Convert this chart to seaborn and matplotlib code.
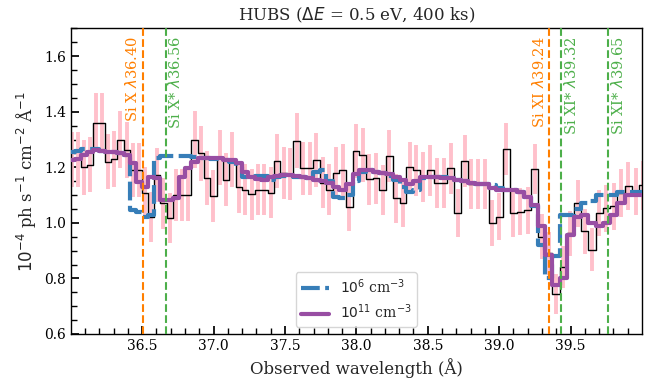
import numpy as np
import pandas as pd
import matplotlib
matplotlib.use("Agg")
import matplotlib.pyplot as plt
import matplotlib.transforms as mtransforms
from matplotlib.ticker import MultipleLocator, AutoMinorLocator
from matplotlib.lines import Line2D
import seaborn as sns

HC_EV_A = 12398.42          # h*c in eV*Angstrom
REDSHIFT = 0.00285

# Spectral binning: constant 0.4 eV width in energy
energy_edges_ev = np.arange(309.7, 344.55, 0.4)
wave_edges = np.sort(HC_EV_A / energy_edges_ev)
wave_centres = 0.5 * (wave_edges[:-1] + wave_edges[1:])

# Simulated observed flux (1e-4 ph/s/cm2/A), ordered by increasing wavelength
flux = [1.229, 1.229, 1.20, 1.21, 1.36, 1.36, 1.22, 1.23, 1.30, 1.263,
        1.19, 1.19, 1.107, 1.023, 1.173, 1.07, 1.017, 1.10, 1.10, 1.10,
        1.30, 1.25, 1.162, 1.097, 1.236, 1.155, 1.229, 1.128, 1.12, 1.103,
        1.12, 1.12, 1.109, 1.223, 1.18, 1.175, 1.295, 1.197, 1.197, 1.227,
        1.145, 1.12, 1.18, 1.19, 1.059, 1.26, 1.245, 1.157, 1.16, 1.119,
        1.241, 1.089, 1.073, 1.20, 1.19, 1.165, 1.19, 1.143, 1.143, 1.197,
        1.037, 1.224, 1.14, 1.14, 1.14, 1.0, 1.023, 1.266, 1.035, 1.04,
        1.045, 1.193, 0.95, 0.89, 0.745, 0.842, 0.963, 1.071, 0.97, 0.903,
        1.037, 1.053, 1.06, 1.107, 1.133, 1.113, 1.135]

flux_err = [0.100, 0.100, 0.098, 0.099, 0.106, 0.106, 0.099, 0.100, 0.103, 0.101,
            0.098, 0.098, 0.094, 0.090, 0.097, 0.093, 0.090, 0.094, 0.094, 0.094,
            0.102, 0.100, 0.096, 0.093, 0.099, 0.095, 0.098, 0.094, 0.093, 0.092,
            0.093, 0.093, 0.092, 0.097, 0.095, 0.094, 0.099, 0.095, 0.095, 0.096,
            0.092, 0.091, 0.094, 0.094, 0.088, 0.097, 0.096, 0.092, 0.092, 0.090,
            0.095, 0.088, 0.087, 0.093, 0.092, 0.091, 0.092, 0.090, 0.090, 0.092,
            0.086, 0.093, 0.089, 0.089, 0.089, 0.084, 0.085, 0.095, 0.085, 0.085,
            0.085, 0.090, 0.081, 0.078, 0.072, 0.076, 0.081, 0.085, 0.081, 0.078,
            0.083, 0.084, 0.084, 0.086, 0.087, 0.086, 0.087]

# Model spectra for two gas densities
model_low_density = [1.255, 1.26, 1.265, 1.265, 1.265, 1.26, 1.255, 1.255, 1.25, 1.245,
                     1.045, 1.04, 1.02, 1.03, 1.235, 1.24, 1.24, 1.24, 1.24, 1.24,
                     1.238, 1.235, 1.233, 1.23, 1.23, 1.225, 1.22, 1.20, 1.165, 1.16,
                     1.17, 1.17, 1.155, 1.165, 1.17, 1.17, 1.165, 1.165, 1.16, 1.185,
                     1.19, 1.15, 1.095, 1.09, 1.10, 1.15, 1.185, 1.19, 1.185, 1.18,
                     1.17, 1.155, 1.13, 1.11, 1.12, 1.16, 1.165, 1.165, 1.165, 1.16,
                     1.155, 1.15, 1.145, 1.14, 1.14, 1.135, 1.125, 1.12, 1.12, 1.11,
                     1.095, 1.06, 0.92, 0.80, 0.88, 1.03, 1.03, 1.05, 1.07, 1.08,
                     1.10, 1.10, 1.10, 1.11, 1.11, 1.11, 1.11]

model_high_density = [1.225, 1.23, 1.245, 1.255, 1.262, 1.26, 1.255, 1.255, 1.25, 1.245,
                      1.215, 1.149, 1.131, 1.167, 1.16, 1.083, 1.083, 1.09, 1.167, 1.197,
                      1.221, 1.233, 1.233, 1.235, 1.232, 1.228, 1.225, 1.215, 1.185, 1.165,
                      1.158, 1.155, 1.165, 1.17, 1.172, 1.172, 1.17, 1.165, 1.16, 1.155,
                      1.15, 1.145, 1.13, 1.12, 1.14, 1.175, 1.19, 1.19, 1.185, 1.18,
                      1.175, 1.165, 1.155, 1.14, 1.15, 1.165, 1.165, 1.165, 1.16, 1.16,
                      1.155, 1.15, 1.145, 1.14, 1.14, 1.125, 1.12, 1.12, 1.12, 1.113,
                      1.095, 1.065, 0.99, 0.885, 0.775, 0.80, 0.955, 1.02, 1.03, 1.0,
                      0.99, 1.0, 1.03, 1.07, 1.10, 1.10, 1.10]

model_labels = [r"$10^6$ cm$^{-3}$", r"$10^{11}$ cm$^{-3}$"]

# Rest-frame line identifications
line_names = [r"Si X $\lambda$36.40", r"Si X* $\lambda$36.56", r"Si XI $\lambda$39.24",
              r"Si XI* $\lambda$39.32", r"Si XI* $\lambda$39.65"]
line_rest = [36.40, 36.56, 39.24, 39.32, 39.65]
line_kind = ["ground", "excited", "ground", "excited", "excited"]

BLUE, PURPLE, GREEN, ORANGE = "#377eb8", "#984ea3", "#4daf4a", "#ff7f00"

sns.set_theme(style="ticks")
plt.rcParams.update({
    "font.family": ["DejaVu Serif"],
    "mathtext.fontset": "dejavusans",
    "xtick.direction": "in",
    "ytick.direction": "in",
    "xtick.labelsize": 10,
    "ytick.labelsize": 10,
    "axes.edgecolor": "black",
    "axes.linewidth": 1.0,
    "xtick.color": "black",
    "ytick.color": "black",
})

fig = plt.figure(figsize=(6.6, 3.82), dpi=100)
ax = fig.add_axes([0.1076, 0.1257, 0.8647, 0.7997])


def step_frame(values):
    return pd.DataFrame({"wave": wave_edges,
                         "val": list(values) + [values[-1]]})


# error bars of the binned data
ax.errorbar(wave_centres, flux, yerr=flux_err, fmt="none", ecolor="pink",
            elinewidth=2.8, capsize=0, zorder=1)

# binned data
d = step_frame(flux)
sns.lineplot(data=d, x="wave", y="val", ax=ax, estimator=None, sort=False,
             drawstyle="steps-post", color="black", linewidth=1.0, zorder=2,
             legend=False)

# models
d = step_frame(model_low_density)
sns.lineplot(data=d, x="wave", y="val", ax=ax, estimator=None, sort=False,
             drawstyle="steps-post", color=BLUE, linewidth=3.0, zorder=3,
             linestyle=(0, (4.5, 1.3)), legend=False)
d = step_frame(model_high_density)
sns.lineplot(data=d, x="wave", y="val", ax=ax, estimator=None, sort=False,
             drawstyle="steps-post", color=PURPLE, linewidth=3.0, zorder=4,
             legend=False)

# line markers
trans = mtransforms.blended_transform_factory(ax.transData, ax.transAxes)
for name, rest, kind in zip(line_names, line_rest, line_kind):
    obs = rest * (1 + REDSHIFT)
    col = ORANGE if kind == "ground" else GREEN
    ax.axvline(obs, color=col, linestyle="--", linewidth=1.5, zorder=5)
    if kind == "ground":
        ax.text(obs - 0.018, 0.975, name, transform=trans, rotation=90,
                ha="right", va="top", color=col, fontsize=10.5)
    else:
        ax.text(obs + 0.012, 0.975, name, transform=trans, rotation=90,
                ha="left", va="top", color=col, fontsize=10.5)

ax.set_xlim(36.002, 39.998)
ax.set_ylim(0.6, 1.7)
ax.xaxis.set_major_locator(MultipleLocator(0.5))
ax.xaxis.set_minor_locator(AutoMinorLocator(5))
ax.yaxis.set_major_locator(MultipleLocator(0.2))
ax.yaxis.set_minor_locator(AutoMinorLocator(4))
ax.tick_params(which="both", top=False, right=False)

ax.set_xlabel("Observed wavelength (Å)", fontsize=12)
ax.set_ylabel(r"$10^{-4}$ ph s$^{-1}$ cm$^{-2}$ Å$^{-1}$", fontsize=12)
ax.set_title(r"HUBS ($\Delta E$ = 0.5 eV, 400 ks)", fontsize=12)

handles = [Line2D([], [], color=BLUE, linewidth=3.0, linestyle=(0, (4.5, 1.3))),
           Line2D([], [], color=PURPLE, linewidth=3.0)]
ax.legend(handles, model_labels, loc="lower center", fontsize=10,
          frameon=True, fancybox=True, framealpha=0.8, edgecolor="0.8")

fig.savefig("out.png", dpi=100)
